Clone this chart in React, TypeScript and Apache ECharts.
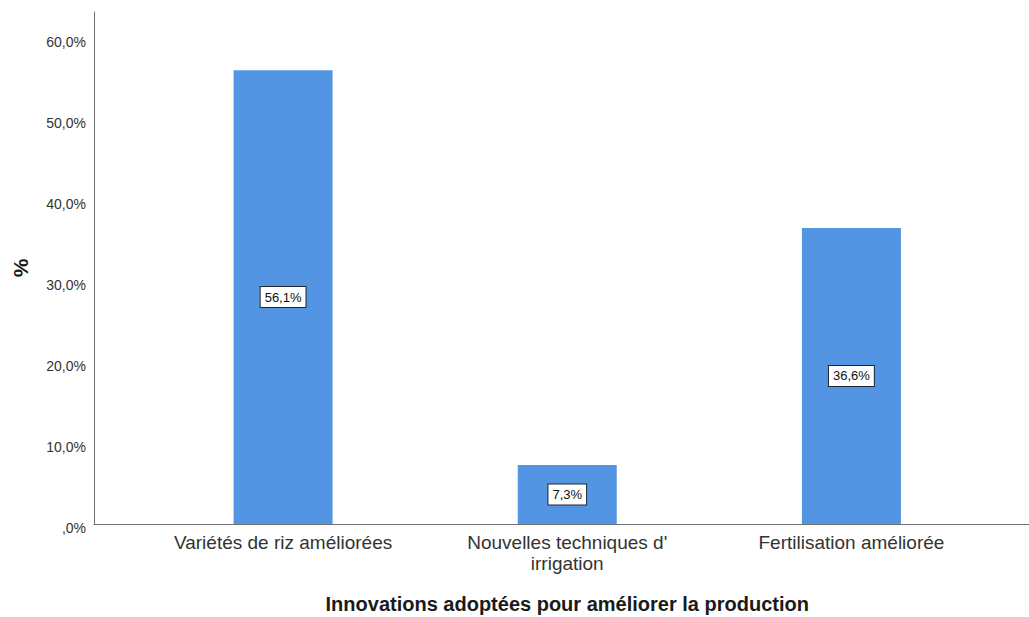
import React, { useEffect, useRef } from "react";
import * as echarts from "echarts";

// Share of respondents per adopted innovation (%)
const categories = [
  "Variétés de riz améliorées",
  "Nouvelles techniques d'\nirrigation",
  "Fertilisation améliorée",
];
const percentages = [56.1, 7.3, 36.6];
const yTicks = [0, 10, 20, 30, 40, 50, 60];
const Y_MAX = 63.3;

const FONT = "'Liberation Sans', Arial, Helvetica, sans-serif";
const BAR_BLUE = "#5394e3";
const AXIS_GREY = "#707070";

const fmtPct = (v: number) =>
  v === 0 ? ",0%" : v.toFixed(1).replace(".", ",") + "%";

// Frame grid (axis lines + y labels) spans the full width; bar grid is inset.
const FRAME = { left: 94, right: 0, top: 12, bottom: 93 };
const BARS = { left: 141, right: 35.5, top: 12, bottom: 93 };

export default function App() {
  const ref = useRef<HTMLDivElement>(null);

  useEffect(() => {
    if (!ref.current) return;
    const chart = echarts.init(ref.current, null, { renderer: "svg" });

    chart.setOption({
      animation: false,
      backgroundColor: "#ffffff",
      grid: [
        { ...FRAME, containLabel: false, outerBoundsMode: "none" },
        { ...BARS, containLabel: false, outerBoundsMode: "none" },
      ],
      xAxis: [
        {
          gridIndex: 0,
          type: "value",
          min: 0,
          max: 1,
          splitLine: { show: false },
          axisLine: { show: true, onZero: false, lineStyle: { color: AXIS_GREY, width: 1 } },
          axisTick: { show: false },
          axisLabel: { show: false },
        },
        {
          gridIndex: 1,
          type: "category",
          data: categories,
          boundaryGap: true,
          axisLine: { show: false },
          axisTick: { show: false },
          axisLabel: {
            interval: 0,
            margin: 8,
            fontFamily: FONT,
            fontSize: 19,
            lineHeight: 21,
            color: "#333333",
          },
          name: "Innovations adoptées pour améliorer la production",
          nameLocation: "middle",
          nameGap: 70,
          nameTextStyle: {
            fontFamily: FONT,
            fontSize: 20,
            fontWeight: "bold",
            color: "#1a1a1a",
          },
        },
      ],
      yAxis: [
        {
          gridIndex: 0,
          type: "value",
          min: 0,
          max: Y_MAX,
          interval: 10,
          splitLine: { show: false },
          axisLine: { show: true, onZero: false, lineStyle: { color: AXIS_GREY, width: 1 } },
          axisTick: { show: false },
          axisLabel: {
            customValues: yTicks,
            formatter: (v: number) => fmtPct(v),
            margin: 8,
            fontFamily: FONT,
            fontSize: 14,
            color: "#333333",
            verticalAlign: "top",
            lineHeight: 7,
          },
          name: "%",
          nameLocation: "middle",
          nameRotate: 90,
          nameGap: 63,
          nameTextStyle: {
            fontFamily: FONT,
            fontSize: 21,
            fontWeight: "bold",
            color: "#1a1a1a",
          },
        },
        {
          gridIndex: 1,
          type: "value",
          min: 0,
          max: Y_MAX,
          show: false,
          splitLine: { show: false },
        },
      ],
      series: [
        {
          type: "bar",
          xAxisIndex: 1,
          yAxisIndex: 1,
          barWidth: 99,
          data: percentages,
          itemStyle: { color: BAR_BLUE },
          label: {
            show: true,
            position: "inside",
            formatter: (p: any) => fmtPct(p.value),
            fontFamily: FONT,
            fontSize: 13,
            color: "#111111",
            backgroundColor: "#ffffff",
            borderColor: "#1f2733",
            borderWidth: 1,
            padding: [4, 4, 3, 4],
          },
        },
      ],
    });

    return () => chart.dispose();
  }, []);

  return (
    <div
      ref={ref}
      style={{ position: "absolute", left: 0, top: 0, width: 1029, height: 617 }}
    />
  );
}
